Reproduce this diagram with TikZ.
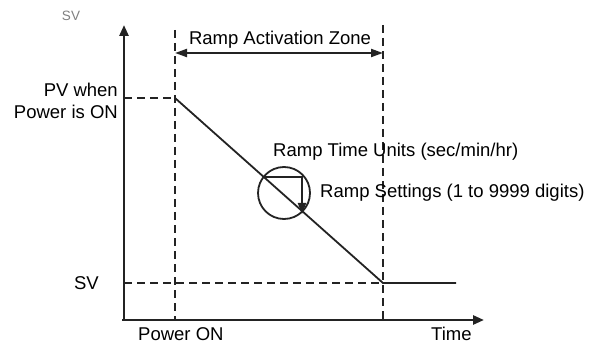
\documentclass[tikz,border=0pt]{standalone}
\usepackage{fontspec}
\setmainfont{Liberation Sans}
\usetikzlibrary{arrows.meta,positioning,calc}
\definecolor{inkdark}{RGB}{35,35,35}
\definecolor{unitgray}{RGB}{128,128,128}
\tikzset{
  axisln/.style={-{Triangle[length=11pt,width=9pt]}, line width=2.6pt, inkdark},
  guideln/.style={dash pattern=on 8pt off 5pt, line width=2.3pt, inkdark},
  rampln/.style={line width=1.8pt, inkdark},
  zoneln/.style={{Triangle[length=12pt,width=8pt]}-{Triangle[length=12pt,width=8pt]}, line width=2pt, inkdark},
  stepln/.style={-{Triangle[length=11pt,width=8pt]}, line width=2pt, inkdark},
  lbl/.style={font=\fontsize{18.5}{22}\selectfont, inner sep=0pt, text=black},
}
\begin{document}
\begin{tikzpicture}[x=1pt, y=-1pt]
    \useasboundingbox (0,0) rectangle (604,347);
    % key points (pixel grid, y down)
    \coordinate (o) at (124,320);
    \coordinate (ytip) at (124,25);
    \coordinate (xtip) at (484,320);
    \coordinate (pvy) at (124,98);
    \coordinate (svy) at (124,283);
    \coordinate (pontop) at (175,30);
    \coordinate (pon) at (175,320);
    \coordinate (pv) at (175,98);
    \coordinate (sv) at (383,283);
    \coordinate (rtop) at (383,25);
    \coordinate (rend) at (383,320);
    \coordinate (svend) at (456,283);
    \coordinate (zl) at (175,53);
    \coordinate (zr) at (383,53);
    % guide lines
    \draw[guideln] (pontop) -- (pon);
    \draw[guideln] (rtop) -- (rend);
    \draw[guideln] (pvy) -- (pv);
    \draw[guideln] (svy) -- (sv);
    % axes
    \draw[axisln] (o) -- (ytip);
    \draw[axisln] ($(o)+(-2,0)$) -- (xtip);
    % ramp and final SV
    \draw[rampln] (pv) -- (sv) -- (svend);
    % activation zone
    \draw[zoneln] (zl) -- (zr);
    \node[lbl] (zone) at (280,40) {Ramp Activation Zone};
    % ramp step detail
    \node[draw, circle, rampln, minimum size=52pt, inner sep=0pt] (lens) at (284,193) {};
    \coordinate (stepa) at (265,177);
    \coordinate (stepb) at (302,177);
    \coordinate (stepc) at (302,214);
    \draw[stepln] (stepa) -- (stepb) -- (stepc);
    \node[lbl, anchor=west] (units) at (273,152) {Ramp Time Units (sec/min/hr)};
    \node[lbl, anchor=west] (settings) at (320,193) {Ramp Settings (1 to 9999 digits)};
    % axis labels
    \node[font=\fontsize{13.5}{16}\selectfont, text=unitgray, inner sep=0pt] (svunit) at (71,16) {SV};
    \node[lbl, anchor=east, align=right] (pvlbl) at (118,101) {PV when\\Power is ON};
    \node[lbl, anchor=east] (svlbl) at (99,283) {SV};
    \node[lbl, anchor=west] (ponlbl) at (138,334) {Power ON};
    \node[lbl, anchor=west] (timelbl) at (431,334) {Time};
\end{tikzpicture}
\end{document}
